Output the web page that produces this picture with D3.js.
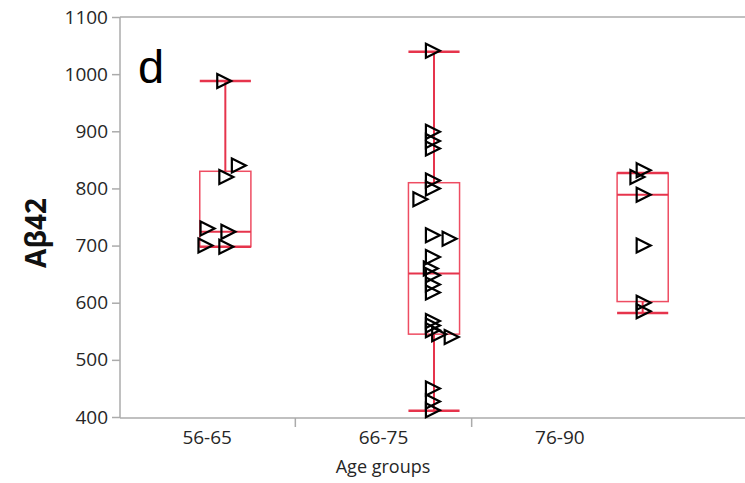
<!DOCTYPE html>
<html>
<head>
<meta charset="utf-8">
<script src="https://cdn.jsdelivr.net/npm/d3@7"></script>
<style>
  body { margin: 0; background: #fff; }
  svg { display: block; }
</style>
</head>
<body>
<script>
// groups and values
const groups = ["56-65", "66-75", "76-90"];
const values_5665 = [988, 840, 820, 730, 724, 700, 698];
const jitter_5665 = [-0.01, 0.06, 0.00, -0.09, 0.01, -0.10, 0.00];
const values_6675 = [1041, 899, 883, 870, 814, 800, 781, 718, 712, 680, 660, 648, 632, 618,
                     568, 560, 552, 545, 540, 450, 427, 412];
const jitter_6675 = [-0.01, -0.01, -0.01, -0.01, -0.01, -0.01, -0.07, -0.01, 0.07, -0.01, -0.02, -0.01, -0.01, -0.01,
                     -0.01, -0.01, -0.01, 0.02, 0.08, -0.01, -0.01, -0.01];
const values_7690 = [832, 820, 789, 700, 600, 585];
const jitter_7690 = [0.00, -0.03, 0.00, 0.00, 0.00, 0.00];
// box stats as drawn in the picture: [min, q1, median, q3, max]
const box_stats = [
    [698, 698, 724, 830, 988],
    [411, 545, 651, 810, 1039],
    [582, 602, 789, 827, 827]
];
const y_ticks = [400, 500, 600, 700, 800, 900, 1000, 1100];

const width = 745, height = 483;
const margin = { top: 17, left: 120, bottom: 418 };

const svg = d3.select("body").append("svg")
    .attr("width", width)
    .attr("height", height);

const y = d3.scaleLinear().domain([400, 1100]).range([417, 17]);
// labels sit on one band scale, boxes on a wider one (as in the picture)
const x_label = d3.scaleBand().domain(groups).range([119, 648]);
const x_box = d3.scaleBand().domain(groups).range([121, 747]);

const axis_col = "#ababab";
const red = "#e6344c";
const text_col = "#262626";

// y axis
const y_axis = svg.append("g")
    .attr("transform", "translate(" + margin.left + ",0)")
    .call(d3.axisLeft(y).tickValues(y_ticks).tickFormat(d3.format("d")).tickSize(8).tickPadding(4));
y_axis.select(".domain").attr("stroke", axis_col).attr("stroke-width", 1.5)
    .attr("d", "M0," + margin.top + "V" + margin.bottom);
y_axis.selectAll(".tick line").attr("stroke", axis_col).attr("stroke-width", 1.5);
y_axis.selectAll(".tick text")
    .attr("fill", text_col)
    .style("font-family", "'Open Sans', sans-serif")
    .style("font-size", "19px");

// top frame line
svg.append("line")
    .attr("x1", margin.left).attr("x2", width)
    .attr("y1", margin.top).attr("y2", margin.top)
    .attr("stroke", axis_col).attr("stroke-width", 1.5);

// x axis
const x_axis = svg.append("g")
    .attr("transform", "translate(0," + margin.bottom + ")")
    .call(d3.axisBottom(x_label).tickSize(0).tickPadding(13));
x_axis.select(".domain").attr("stroke", axis_col).attr("stroke-width", 1.5)
    .attr("d", "M" + margin.left + ",0H" + width);
x_axis.selectAll(".tick text")
    .attr("fill", text_col)
    .style("font-family", "'Open Sans', sans-serif")
    .style("font-size", "19px");
// separators between categories
x_axis.selectAll(".sep")
    .data(groups.slice(1))
    .enter().append("line")
    .attr("class", "sep")
    .attr("x1", d => x_label(d)).attr("x2", d => x_label(d))
    .attr("y1", 0).attr("y2", 9)
    .attr("stroke", axis_col).attr("stroke-width", 1.5);

// axis titles
svg.append("text")
    .attr("x", 383).attr("y", 473)
    .attr("text-anchor", "middle")
    .attr("fill", text_col)
    .style("font-family", "'Open Sans', sans-serif")
    .style("font-size", "18px")
    .text("Age groups");

svg.append("text")
    .attr("transform", "translate(46,233) rotate(-90)")
    .attr("text-anchor", "middle")
    .attr("fill", "#111")
    .style("font-family", "'Open Sans', sans-serif")
    .style("font-weight", "bold")
    .style("font-size", "28px")
    .text("Aβ42");

svg.append("text")
    .attr("x", 138).attr("y", 83)
    .attr("fill", "#000")
    .style("font-family", "'Liberation Sans', Arial, sans-serif")
    .style("font-size", "47px")
    .text("d");

// box plots
const box_w = x_box.bandwidth() * 0.245;
const boxes = svg.selectAll(".box")
    .data(box_stats)
    .enter().append("g")
    .attr("class", "box")
    .attr("transform", (d, i) => "translate(" + (x_box(groups[i]) + x_box.bandwidth() / 2) + ",0)");

boxes.append("rect")
    .attr("x", -box_w / 2)
    .attr("width", box_w)
    .attr("y", d => y(d[3]))
    .attr("height", d => y(d[1]) - y(d[3]))
    .attr("fill", "none")
    .attr("stroke", "#ee4d62")
    .attr("stroke-width", 1.5);

boxes.append("line")
    .attr("x1", -box_w / 2).attr("x2", box_w / 2)
    .attr("y1", d => y(d[2])).attr("y2", d => y(d[2]))
    .attr("stroke", red).attr("stroke-width", 2);

// whiskers
boxes.append("line")
    .attr("x1", 0).attr("x2", 0)
    .attr("y1", d => y(d[3])).attr("y2", d => y(d[4]))
    .attr("stroke", red).attr("stroke-width", 2);
boxes.append("line")
    .attr("x1", 0).attr("x2", 0)
    .attr("y1", d => y(d[1])).attr("y2", d => y(d[0]))
    .attr("stroke", red).attr("stroke-width", 2);
// caps
boxes.selectAll(".cap")
    .data(d => [d[0], d[4]])
    .enter().append("line")
    .attr("class", "cap")
    .attr("x1", -box_w / 2).attr("x2", box_w / 2)
    .attr("y1", v => y(v)).attr("y2", v => y(v))
    .attr("stroke", red).attr("stroke-width", 2.5);

// points
const all_values = [values_5665, values_6675, values_7690];
const all_jitter = [jitter_5665, jitter_6675, jitter_7690];
const tri = "M-6,-7L8,0L-6,7Z";

all_values.forEach(function (vals, i) {
    const cx = x_box(groups[i]) + x_box.bandwidth() / 2;
    svg.append("g").selectAll("path")
        .data(vals)
        .enter().append("path")
        .attr("d", tri)
        .attr("transform", (v, k) => "translate(" + (cx + all_jitter[i][k] * x_box.bandwidth()) + "," + y(v) + ")")
        .attr("fill", "none")
        .attr("stroke", "#000")
        .attr("stroke-width", 2.2);
});
</script>
</body>
</html>
